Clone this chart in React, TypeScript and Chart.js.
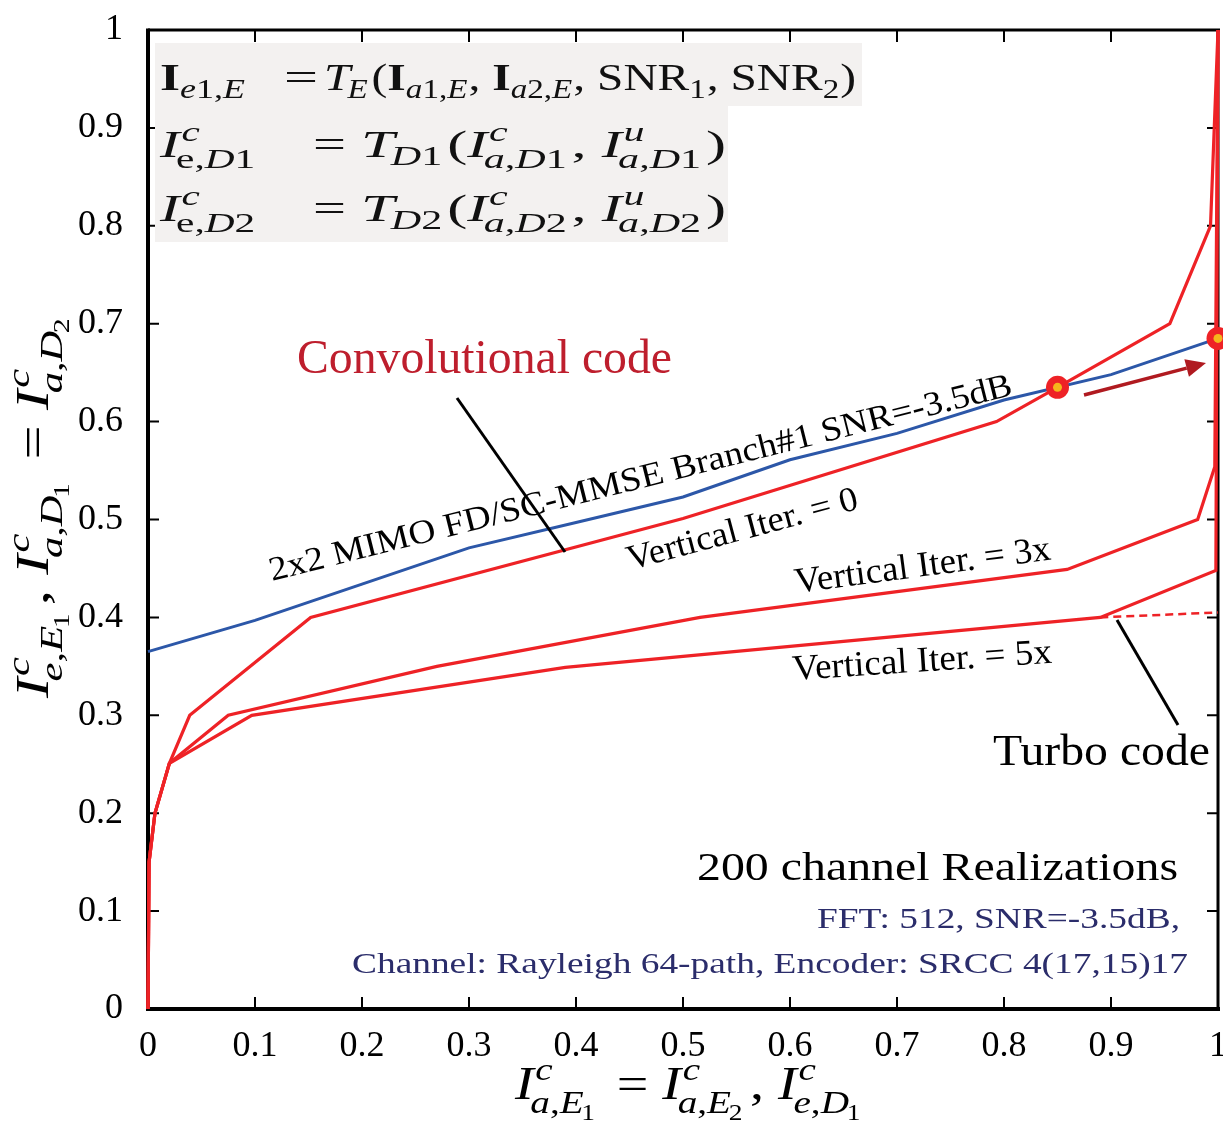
import React, { useEffect, useRef } from 'react';
import { Chart, registerables } from 'chart.js';

Chart.register(...registerables);

const tickValues = [0, 0.1, 0.2, 0.3, 0.4, 0.5, 0.6, 0.7, 0.8, 0.9, 1];
const tickLabels = ['0', '0.1', '0.2', '0.3', '0.4', '0.5', '0.6', '0.7', '0.8', '0.9', '1'];

// 2x2 MIMO FD/SC-MMSE Branch#1 SNR=-3.5dB (blue)
const mimoX = [0, 0.1, 0.2, 0.3, 0.4, 0.5, 0.6, 0.7, 0.8, 0.9, 1.0];
const mimoY = [0.365, 0.397, 0.434, 0.471, 0.497, 0.523, 0.561, 0.588, 0.622, 0.648, 0.685];

// Vertical Iter. = 0
const iter0X = [0, 0.001, 0.0065, 0.02, 0.039, 0.152, 0.5, 0.793, 0.85, 0.955, 0.993, 1.0];
const iter0Y = [0, 0.15, 0.2, 0.251, 0.3, 0.4, 0.501, 0.6, 0.635, 0.7, 0.8, 1.0];

// Vertical Iter. = 3x
const iter3X = [0, 0.001, 0.0065, 0.02, 0.075, 0.27, 0.516, 0.859, 0.981, 0.997, 1.0];
const iter3Y = [0, 0.15, 0.2, 0.251, 0.3, 0.35, 0.4, 0.449, 0.5, 0.554, 1.0];

// Vertical Iter. = 5x
const iter5X = [0, 0.001, 0.0065, 0.02, 0.097, 0.39, 0.89, 0.998, 1.0];
const iter5Y = [0, 0.15, 0.2, 0.251, 0.3, 0.349, 0.4, 0.448, 1.0];

// Turbo code (dashed)
const turboX = [0.89, 1.0];
const turboY = [0.4, 0.405];

// Crossing points
const crossX = [0.85, 1.0];
const crossY = [0.635, 0.685];

const RED = '#ee2226';
const BLUE = '#2c57a8';
const SERIF = "'Liberation Serif', 'Times New Roman', serif";

const pts = (xs: number[], ys: number[]) => xs.map((x, i) => ({ x, y: ys[i] }));

type Tok = { t: string; f?: 'i' | 'r' | 'b'; sup?: Tok[]; sub?: Tok[] };

function fontFor(f: string | undefined, size: number) {
  if (f === 'i') return `italic ${size}px ${SERIF}`;
  if (f === 'b') return `bold ${size}px ${SERIF}`;
  return `${size}px ${SERIF}`;
}

function layoutToks(ctx: CanvasRenderingContext2D, toks: Tok[], size: number, draw: boolean, x0: number, y: number): number {
  let x = x0;
  for (const tk of toks) {
    ctx.font = fontFor(tk.f, size);
    const w = ctx.measureText(tk.t).width;
    if (draw) ctx.fillText(tk.t, x, y);
    let adv = w;
    if (tk.sup || tk.sub) {
      const ss = size * 0.7;
      const both = !!(tk.sup && tk.sub);
      let ws = 0;
      let wb = 0;
      if (tk.sup) ws = layoutToks(ctx, tk.sup, ss, draw, x + w + size * 0.03, y - size * 0.42);
      if (tk.sub) wb = layoutToks(ctx, tk.sub, ss, draw, x + w - (tk.f === 'i' ? size * 0.06 : 0), y + size * (both ? 0.3 : 0.22));
      adv = w + Math.max(ws, wb) + size * 0.02;
    }
    x += adv;
  }
  return x - x0;
}

function drawMath(ctx: CanvasRenderingContext2D, toks: Tok[], x: number, y: number, size: number, color: string, targetW?: number, angleDeg = 0) {
  ctx.save();
  ctx.fillStyle = color;
  ctx.textBaseline = 'alphabetic';
  ctx.textAlign = 'left';
  const w = layoutToks(ctx, toks, size, false, 0, 0);
  ctx.translate(x, y);
  if (angleDeg) ctx.rotate((-angleDeg * Math.PI) / 180);
  if (targetW) ctx.scale(targetW / w, 1);
  layoutToks(ctx, toks, size, true, 0, 0);
  ctx.restore();
}

function drawText(ctx: CanvasRenderingContext2D, text: string, x: number, y: number, size: number, color: string, targetW?: number, angleDeg = 0, align: 'left' | 'right' = 'left') {
  ctx.save();
  ctx.font = `${size}px ${SERIF}`;
  ctx.fillStyle = color;
  ctx.textBaseline = 'alphabetic';
  ctx.textAlign = 'left';
  const w = ctx.measureText(text).width;
  const sx = targetW ? targetW / w : 1;
  ctx.translate(x, y);
  if (angleDeg) ctx.rotate((-angleDeg * Math.PI) / 180);
  ctx.scale(sx, 1);
  ctx.fillText(text, align === 'right' ? -w : 0, 0);
  ctx.restore();
}

function line(ctx: CanvasRenderingContext2D, x1: number, y1: number, x2: number, y2: number, color: string, w: number) {
  ctx.save();
  ctx.strokeStyle = color;
  ctx.lineWidth = w;
  ctx.beginPath();
  ctx.moveTo(x1, y1);
  ctx.lineTo(x2, y2);
  ctx.stroke();
  ctx.restore();
}

const i = (t: string, extra: Partial<Tok> = {}): Tok => ({ t, f: 'i', ...extra });
const r = (t: string, extra: Partial<Tok> = {}): Tok => ({ t, f: 'r', ...extra });
const b = (t: string, extra: Partial<Tok> = {}): Tok => ({ t, f: 'b', ...extra });

const eq1L: Tok[] = [b('I', { sub: [i('e'), r('1'), r(','), i('E')] })];
const eq1R: Tok[] = [
  i('T', { sub: [i('E')] }), r('('),
  b('I', { sub: [i('a'), r('1'), r(','), i('E')] }), r(', '),
  b('I', { sub: [i('a'), r('2'), r(','), i('E')] }), r(', '),
  r('SNR', { sub: [r('1')] }), r(', '),
  r('SNR', { sub: [r('2')] }), r(')'),
];
const eq2L: Tok[] = [i('I', { sup: [i('c')], sub: [r('e'), r(','), i('D'), r('1')] })];
const eq2R: Tok[] = [
  i('T', { sub: [i('D'), r('1')] }), r('('),
  i('I', { sup: [i('c')], sub: [i('a'), r(','), i('D'), r('1')] }), r(', '),
  i('I', { sup: [i('u')], sub: [i('a'), r(','), i('D'), r('1')] }), r(')'),
];
const eq3L: Tok[] = [i('I', { sup: [i('c')], sub: [r('e'), r(','), i('D'), r('2')] })];
const eq3R: Tok[] = [
  i('T', { sub: [i('D'), r('2')] }), r('('),
  i('I', { sup: [i('c')], sub: [i('a'), r(','), i('D'), r('2')] }), r(', '),
  i('I', { sup: [i('u')], sub: [i('a'), r(','), i('D'), r('2')] }), r(')'),
];

const xTitle: Tok[] = [
  i('I', { sup: [i('c')], sub: [i('a'), r(','), i('E', { sub: [r('1')] })] }),
  r(' = '),
  i('I', { sup: [i('c')], sub: [i('a'), r(','), i('E', { sub: [r('2')] })] }),
  r(', '),
  i('I', { sup: [i('c')], sub: [i('e'), r(','), i('D', { sub: [r('1')] })] }),
];
const yTitle: Tok[] = [
  i('I', { sup: [i('c')], sub: [i('e'), r(','), i('E', { sub: [r('1')] })] }),
  r(', '),
  i('I', { sup: [i('c')], sub: [i('a'), r(','), i('D', { sub: [r('1')] })] }),
  r(' = '),
  i('I', { sup: [i('c')], sub: [i('a'), r(','), i('D', { sub: [r('2')] })] }),
];

const annotPlugin = {
  id: 'annot',
  beforeDatasetsDraw(chart: any) {
    const ctx: CanvasRenderingContext2D = chart.ctx;
    const { left, right, top, bottom } = chart.chartArea;
    const xs = chart.scales.x;
    const ys = chart.scales.y;
    ctx.save();
    ctx.strokeStyle = '#000';
    ctx.lineWidth = 2;
    ctx.beginPath();
    for (const v of tickValues) {
      const px = xs.getPixelForValue(v);
      ctx.moveTo(px, bottom);
      ctx.lineTo(px, bottom - 12);
      ctx.moveTo(px, top);
      ctx.lineTo(px, top + 12);
      const py = ys.getPixelForValue(v);
      ctx.moveTo(left, py);
      ctx.lineTo(left + 11, py);
      ctx.moveTo(right, py);
      ctx.lineTo(right - 11, py);
    }
    ctx.stroke();
    ctx.restore();
    line(ctx, left - 2, bottom, right + 2, bottom, '#000', 4);
    line(ctx, left, top - 1.5, left, bottom + 2, '#000', 4);
    line(ctx, left, top, right + 2, top, '#000', 3);
    line(ctx, right, top, right, bottom, '#000', 3);
  },
  afterDatasetsDraw(chart: any) {
    const ctx: CanvasRenderingContext2D = chart.ctx;
    // equation box
    ctx.save();
    ctx.fillStyle = '#f3f1f0';
    ctx.fillRect(155, 43, 707, 63);
    ctx.fillRect(155, 105, 573, 137);
    ctx.restore();
    const ec = '#111';
    drawMath(ctx, eq1L, 160, 90, 38, ec, 86);
    drawText(ctx, '=', 284, 90, 38, ec, 34);
    drawMath(ctx, eq1R, 324, 90, 38, ec, 532);
    drawMath(ctx, eq2L, 160, 157, 38, ec, 100);
    drawText(ctx, '=', 313, 157, 38, ec, 33);
    drawMath(ctx, eq2R, 361, 157, 38, ec, 365);
    drawMath(ctx, eq3L, 160, 221, 38, ec, 100);
    drawText(ctx, '=', 313, 221, 38, ec, 33);
    drawMath(ctx, eq3R, 361, 221, 38, ec, 365);

    // labels
    drawText(ctx, 'Convolutional code', 297, 373, 48, '#be1e2d', 375);
    line(ctx, 457, 398, 565, 552, '#000', 3);
    drawText(ctx, '2x2 MIMO FD/SC-MMSE Branch#1 SNR=-3.5dB', 272, 581, 34, '#000', 765, 14.1);
    drawText(ctx, 'Vertical Iter. = 0', 630, 570, 35, '#000', 238, 15);
    drawText(ctx, 'Vertical Iter. = 3x', 796, 593, 36, '#000', 258, 7.5);
    drawText(ctx, 'Vertical Iter. = 5x', 793, 680, 36, '#000', 260, 3.8);
    drawText(ctx, 'Turbo code', 993, 765, 44, '#000', 217);
    line(ctx, 1117, 620, 1178, 725, '#000', 3);
    drawText(ctx, '200 channel Realizations', 697, 880, 40, '#000', 481);
    drawText(ctx, 'FFT: 512, SNR=-3.5dB,', 1180, 928, 30, '#2b2d6b', 363, 0, 'right');
    drawText(ctx, 'Channel: Rayleigh 64-path, Encoder: SRCC 4(17,15)17', 352, 973, 30, '#2b2d6b', 836);

    // arrow
    const ax1 = 1084, ay1 = 395, ax2 = 1206, ay2 = 363;
    const ang = Math.atan2(ay2 - ay1, ax2 - ax1);
    const hl = 20, hw = 9;
    const bx = ax2 - hl * Math.cos(ang), by = ay2 - hl * Math.sin(ang);
    line(ctx, ax1, ay1, bx, by, '#b01a20', 3.5);
    ctx.save();
    ctx.fillStyle = '#b01a20';
    ctx.beginPath();
    ctx.moveTo(ax2, ay2);
    ctx.lineTo(bx + hw * Math.sin(ang), by - hw * Math.cos(ang));
    ctx.lineTo(bx - hw * Math.sin(ang), by + hw * Math.cos(ang));
    ctx.closePath();
    ctx.fill();
    ctx.restore();

    // axis titles
    drawMath(ctx, xTitle, 515, 1099, 46, '#000', 353);
    drawMath(ctx, yTitle, 48, 698, 46, '#000', 388, 90);
  },
};

const hiddenTickGrid = (len: number) => ({
  display: true,
  drawOnChartArea: false,
  drawTicks: true,
  tickLength: len,
  color: 'rgba(0,0,0,0)',
  tickColor: 'rgba(0,0,0,0)',
});

export default function App() {
  const ref = useRef<HTMLCanvasElement | null>(null);
  useEffect(() => {
    if (!ref.current) return;
    const chart = new Chart(ref.current, {
      type: 'line',
      data: {
        datasets: [
          { label: 'cross', data: pts(crossX, crossY), showLine: false, pointRadius: 4.5, pointBackgroundColor: '#f5b51c', pointBorderWidth: 0, order: -2, clip: false } as any,
          { label: 'crossOuter', data: pts(crossX, crossY), showLine: false, pointRadius: 11.5, pointBackgroundColor: RED, pointBorderWidth: 0, order: -1, clip: false } as any,
          { label: 'MIMO', data: pts(mimoX, mimoY), borderColor: BLUE, borderWidth: 3, pointRadius: 0, order: 0, clip: false },
          { label: 'Iter0', data: pts(iter0X, iter0Y), borderColor: RED, borderWidth: 3.2, pointRadius: 0, order: 1, clip: false },
          { label: 'Iter3', data: pts(iter3X, iter3Y), borderColor: RED, borderWidth: 3.2, pointRadius: 0, order: 1, clip: false },
          { label: 'Iter5', data: pts(iter5X, iter5Y), borderColor: RED, borderWidth: 3.2, pointRadius: 0, order: 1, clip: false },
          { label: 'Turbo', data: pts(turboX, turboY), borderColor: RED, borderWidth: 2.5, borderDash: [8, 5], pointRadius: 0, order: 1, clip: false },
        ],
      },
      options: {
        animation: false,
        responsive: false,
        maintainAspectRatio: false,
        events: [],
        layout: { autoPadding: false, padding: { left: 0, top: 30, right: 0, bottom: 0 } },
        plugins: { legend: { display: false }, tooltip: { enabled: false } },
        elements: { line: { tension: 0, borderJoinStyle: 'miter' } },
        scales: {
          x: {
            type: 'linear',
            min: 0,
            max: 1,
            grid: hiddenTickGrid(16),
            border: { display: false },
            ticks: {
              stepSize: 0.1,
              autoSkip: false,
              maxRotation: 0,
              padding: 0,
              color: '#000',
              font: { family: SERIF, size: 36 },
              callback: (_v: any, idx: number) => tickLabels[idx],
            },
            afterFit: (s: any) => { s.height = 120; },
          },
          y: {
            type: 'linear',
            min: 0,
            max: 1,
            grid: hiddenTickGrid(25),
            border: { display: false },
            ticks: {
              stepSize: 0.1,
              autoSkip: false,
              padding: 0,
              color: '#000',
              font: { family: SERIF, size: 36 },
              callback: (_v: any, idx: number) => tickLabels[idx],
            },
            afterFit: (s: any) => { s.width = 148; },
          },
        },
      },
      plugins: [annotPlugin],
    });
    return () => chart.destroy();
  }, []);
  return (
    <div style={{ position: 'fixed', left: 0, top: 0, width: 1223, height: 1129, overflow: 'hidden', background: '#fff' }}>
      <canvas ref={ref} width={1227} height={1129} style={{ display: 'block', width: 1227, height: 1129 }} />
    </div>
  );
}
